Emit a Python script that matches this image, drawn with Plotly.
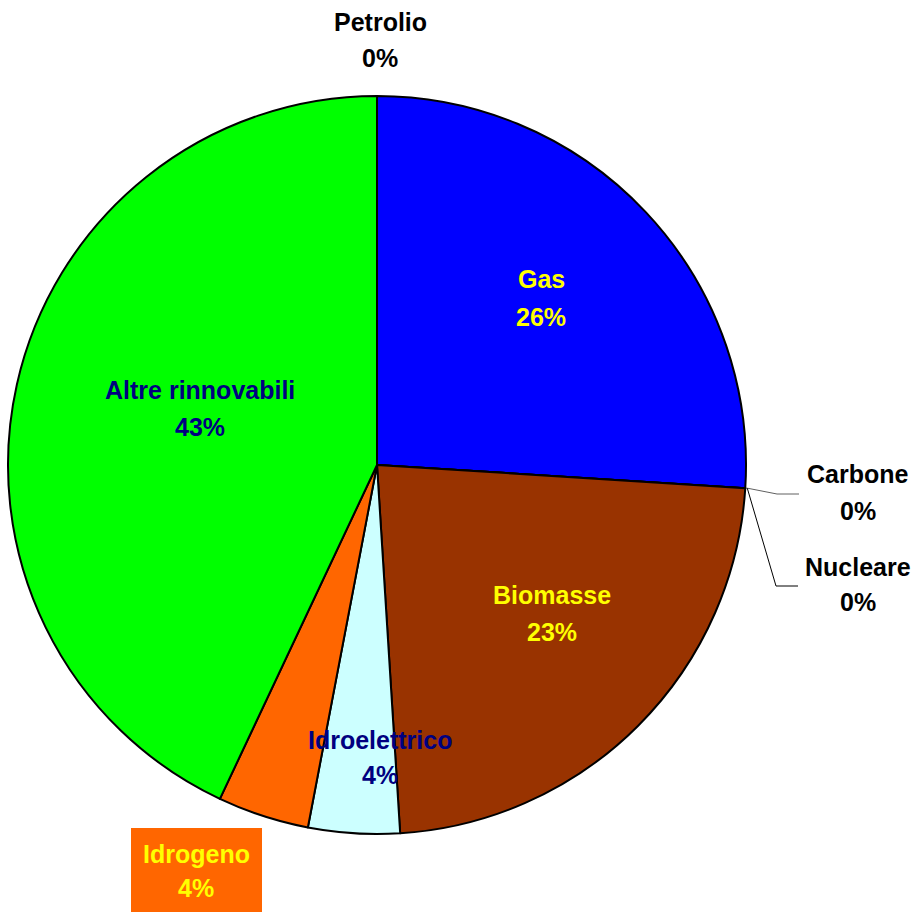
import math
import plotly.graph_objects as go

# Energy mix shares (%) in drawing order, clockwise from 12 o'clock
labels = ["Petrolio", "Gas", "Carbone", "Nucleare", "Biomasse",
          "Idroelettrico", "Idrogeno", "Altre rinnovabili"]
values = [0, 26, 0, 0, 23, 4, 4, 43]
colors = ["#808080", "#0000FF", "#333333", "#FFFF99", "#993300",
          "#CCFFFF", "#FF6600", "#00FF00"]
text_colors = ["#000000", "#FFFF00", "#000000", "#000000", "#FFFF00",
               "#000080", "#FFFF00", "#000080"]

W, H = 918, 915
CX, CY, R = 377, 465, 369


def px(x):
    return x / W


def py(y):
    return 1 - y / H


fig = go.Figure()
fig.add_trace(go.Pie(
    labels=labels,
    values=values,
    sort=False,
    direction="clockwise",
    rotation=0,
    marker=dict(colors=colors, line=dict(color="#000000", width=2)),
    textinfo="none",
    hoverinfo="label+percent",
    showlegend=False,
    domain=dict(x=[px(CX - R), px(CX + R)], y=[py(CY + R), py(CY - R)]),
))

# label centre positions (pixels) for name line and percentage line
label_pos = {
    "Petrolio": (380, 22, 58),
    "Gas": (541, 279, 317),
    "Carbone": (858, 474, 511),
    "Nucleare": (858, 567, 602),
    "Biomasse": (552, 595, 632),
    "Idroelettrico": (380, 740, 775),
    "Idrogeno": (196, 854, 888),
    "Altre rinnovabili": (200, 390, 427),
}

total = sum(values)
annotations = []
for name, val, tc in zip(labels, values, text_colors):
    x, y1, y2 = label_pos[name]
    pct = f"{round(100 * val / total)}%"
    for txt, yy in ((name, y1), (pct, y2)):
        annotations.append(dict(
            x=px(x), y=py(yy), xref="paper", yref="paper",
            text=txt, showarrow=False, xanchor="center", yanchor="middle",
            font=dict(family="Liberation Sans, Arial, sans-serif", size=25,
                      color=tc, weight="bold"),
        ))

shapes = [
    # background box behind the Idrogeno label
    dict(type="rect", xref="paper", yref="paper",
         x0=px(131), x1=px(262), y0=py(912), y1=py(828),
         fillcolor="#FF6600", line=dict(width=0), layer="below"),
]

# leader lines for the zero-share slices on the right edge
cum = 0.0
starts = {}
for name, val in zip(labels, values):
    frac_mid = (cum + val / 2) / total
    ang = 2 * math.pi * frac_mid
    starts[name] = (CX + R * math.sin(ang) + 2, CY - R * math.cos(ang))
    cum += val

for name, (ex, ey), col in (("Carbone", (777, 494), "#606060"),
                            ("Nucleare", (776, 586), "#000000")):
    sx, sy = starts[name]
    path = (f"M {px(sx)},{py(sy)} L {px(ex)},{py(ey)} "
            f"L {px(ex + 22)},{py(ey)}")
    shapes.append(dict(type="path", xref="paper", yref="paper", path=path,
                       line=dict(color=col, width=1)))

fig.update_layout(
    width=W, height=H,
    margin=dict(l=0, r=0, t=0, b=0),
    paper_bgcolor="#FFFFFF",
    plot_bgcolor="#FFFFFF",
    annotations=annotations,
    shapes=shapes,
)

fig.write_html("out.html")
